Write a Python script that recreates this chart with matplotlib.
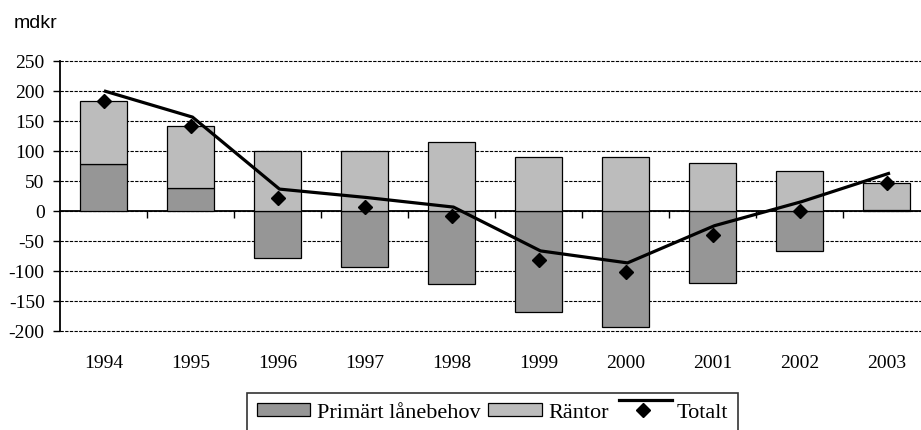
import matplotlib.pyplot as plt
import matplotlib.transforms as mtransforms
from matplotlib.lines import Line2D
from matplotlib.patches import Patch
from matplotlib.legend_handler import HandlerBase
import numpy as np

plt.rcParams['axes.unicode_minus'] = False

# Data (mdkr)
years = ['1994', '1995', '1996', '1997', '1998', '1999', '2000', '2001', '2002', '2003']
primart = [78, 38, -79, -94, -122, -169, -193, -120, -67, 2]
rantor = [106, 103, 100, 100, 115, 90, 90, 80, 66, 45]
totalt = [184, 141, 21, 7, -9, -82, -102, -40, 0, 47]

c_prim = '#969696'
c_rant = '#bcbcbc'
serif = 'Liberation Serif'

fig = plt.figure(figsize=(9.21, 4.30), dpi=100)
ax = fig.add_axes([60 / 921, 99 / 430, 870 / 921, 270 / 430])

x = np.arange(len(years))
prim = np.array(primart)
rant_bottom = np.where(prim > 0, prim, 0)

ax.bar(x, prim, width=0.55, color=c_prim, edgecolor='black', linewidth=0.9, zorder=3)
ax.bar(x, rantor, bottom=rant_bottom, width=0.55, color=c_rant, edgecolor='black',
       linewidth=0.9, zorder=3)

# the total line sits a few pixels above its markers in the original
shifted = mtransforms.offset_copy(ax.transData, fig=fig, x=2, y=9.3, units='dots')
ax.plot(x, totalt, color='black', lw=2.3, transform=shifted, zorder=4,
        solid_joinstyle='miter')
ax.plot(x, totalt, ls='none', marker='D', ms=7.5, color='black', zorder=5)

ax.set_xlim(-0.5, len(years) - 0.5)
ax.set_ylim(-200, 250)
ax.set_yticks(np.arange(-200, 251, 50))
ax.yaxis.grid(True, color='black', lw=0.8, ls=(0, (3, 1.2)), zorder=1)
ax.set_axisbelow(True)
for gl in ax.get_ygridlines():
    gl.set_clip_on(False)

for s in ['top', 'right']:
    ax.spines[s].set_visible(False)
ax.spines['left'].set_linewidth(1.3)
ax.spines['bottom'].set_position(('data', 0))
ax.spines['bottom'].set_linewidth(1.3)
ax.spines['bottom'].set_zorder(2)

ax.tick_params(axis='y', length=5, width=1, pad=6, labelsize=14)
for lab in ax.get_yticklabels():
    lab.set_fontfamily(serif)

# category boundary ticks on the zero line
ax.set_xticks(x[:-1] + 0.5)
ax.set_xticklabels([])
ax.tick_params(axis='x', direction='out', length=5, width=1)

# year labels below the plot
sec = ax.secondary_xaxis('bottom')
sec.spines['bottom'].set_visible(False)
sec.set_xticks(x)
sec.set_xticklabels(years, fontfamily=serif, fontsize=14)
sec.tick_params(axis='x', length=0, pad=17)

fig.text(14 / 921, 1 - 23 / 430, 'mdkr', fontfamily='Liberation Sans', fontsize=14,
         va='center', ha='left')


class TotaltHandler(HandlerBase):
    def create_artists(self, legend, orig_handle, xdescent, ydescent, width, height,
                       fontsize, trans):
        ymid = height / 2 - ydescent
        ln = Line2D([-xdescent + 1.5, width - xdescent + 1.5], [ymid + 6.7, ymid + 6.7],
                    color='black', lw=2.3, transform=trans)
        mk = Line2D([width / 2 - xdescent], [ymid], marker='D', ms=7.5, color='black',
                    ls='none', transform=trans)
        return [ln, mk]


h_prim = Patch(facecolor=c_prim, edgecolor='black', linewidth=0.9)
h_rant = Patch(facecolor=c_rant, edgecolor='black', linewidth=0.9)
h_tot = object()
leg = fig.legend([h_prim, h_rant, h_tot], ['Primärt lånebehov', 'Räntor', 'Totalt'],
                 handler_map={h_tot: TotaltHandler()},
                 loc='upper left', bbox_to_anchor=(247 / 921, 1 - 393 / 430), ncol=3,
                 prop={'family': serif, 'size': 16}, frameon=True, fancybox=False,
                 edgecolor='black', handlelength=2.4, handleheight=0.55,
                 handletextpad=0.3, columnspacing=0.35, borderpad=0.45, borderaxespad=0)
leg.get_frame().set_linewidth(1.2)

fig.savefig('out.png', dpi=100)
